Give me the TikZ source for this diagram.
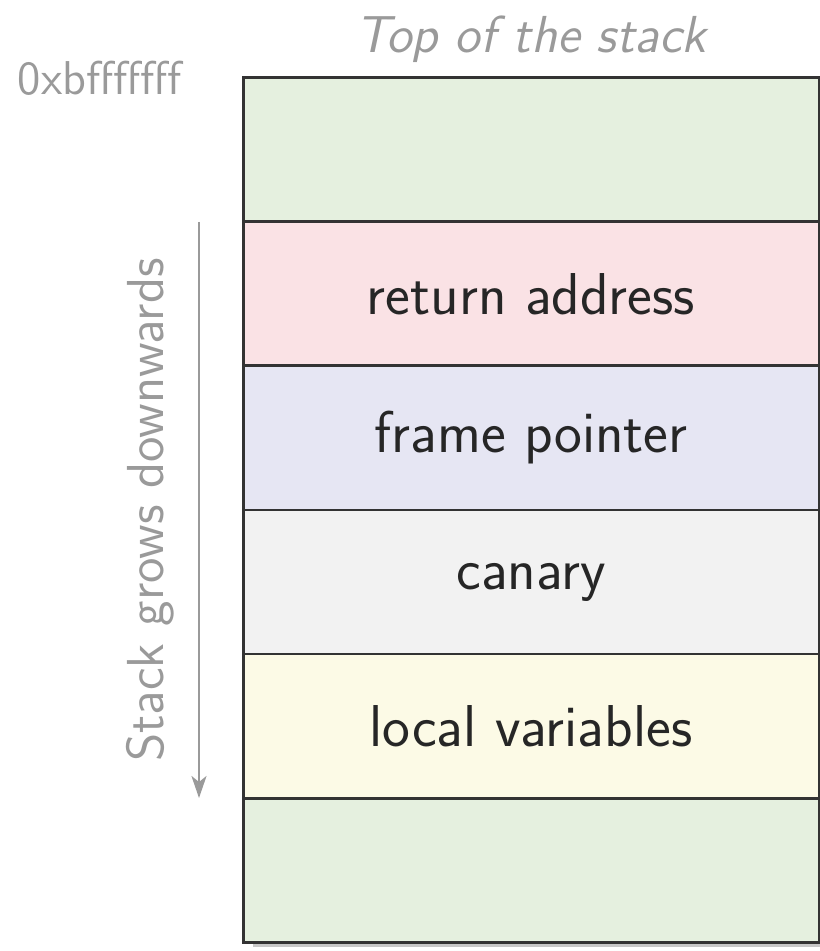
\documentclass[tikz,border=0pt]{standalone}
\usepackage{xcolor}
\usepackage{tikz}
\usetikzlibrary{positioning,arrows.meta}

\definecolor{framegreen}{HTML}{E5F0DF}
\definecolor{retred}{HTML}{FAE2E5}
\definecolor{fpblue}{HTML}{E6E6F3}
\definecolor{canarygray}{HTML}{F2F2F2}
\definecolor{localyellow}{HTML}{FCFAE6}
\definecolor{notegray}{HTML}{9A9A9A}

\begin{document}
\begin{tikzpicture}[font=\sffamily\fontsize{16.8}{20}\selectfont,
		cell/.style={draw=black!80, line width=0.85pt, minimum height=1.44cm, minimum width=5.76cm, outer sep=0pt, text=black!85},
		note/.style={text=notegray, font=\sffamily\fontsize{14.8}{18}\selectfont}]
		\useasboundingbox (0,0) rectangle (8.19,-9.51);
		\fill[black!22] (2.53,-0.83) rectangle (8.40,-9.47);
		\node[cell, fill=framegreen, anchor=north west] (top) at (2.43,-0.78) {};
		\node[cell, fill=retred, below=0cm of top] (ret) {return address};
		\node[cell, fill=fpblue, below=0cm of ret] (fp) {frame pointer};
		\node[cell, fill=canarygray, below=0cm of fp] (canary) {canary};
		\node[cell, fill=localyellow, below=0cm of canary] (locals) {local variables};
		\node[cell, fill=framegreen, below=0cm of locals] (bottom) {};
		\node[note, font=\sffamily\itshape\fontsize{14.8}{18}\selectfont, above=0.03cm of top] (tos) {Top of the stack};
		\node[note, font=\sffamily\fontsize{13.5}{16}\selectfont, left=0.49cm of top.north west] (addr) {0xbfffffff};
		\coordinate (grow start) at ([xshift=-0.44cm]ret.north west);
		\coordinate (grow end) at ([xshift=-0.44cm]locals.south west);
		\draw[notegray, line width=0.75pt, -{Stealth[length=0.22cm, width=0.15cm, inset=0.06cm]}] (grow start) -- (grow end);
		\node[note, rotate=90, anchor=south] (grows) at ([xshift=-0.56cm]canary.north west) {Stack grows downwards};
	\end{tikzpicture}
\end{document}
